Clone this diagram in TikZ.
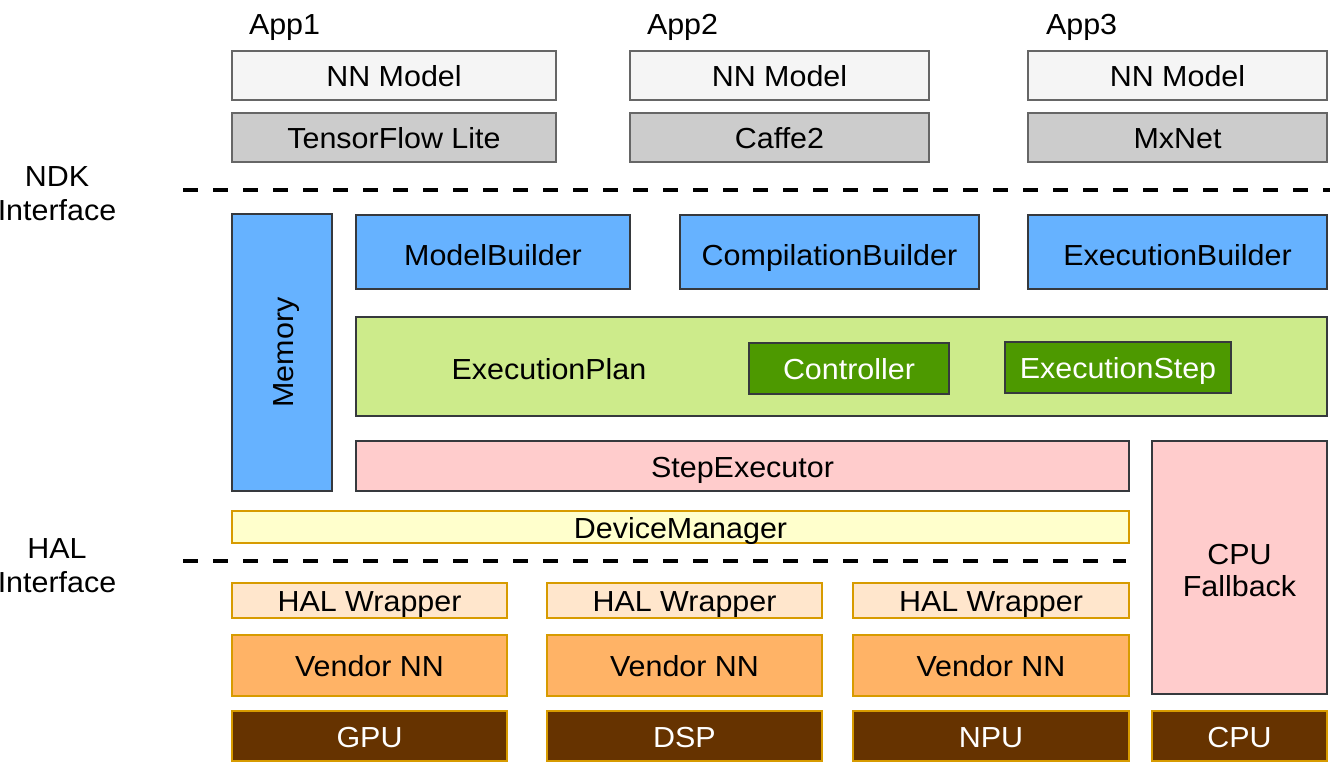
\documentclass[tikz,border=0pt]{standalone}
\usepackage{fontspec}
\setmainfont{Liberation Sans}[FakeStretch=1.05]
\definecolor{nnfill}{HTML}{F5F5F5}
\definecolor{fwfill}{HTML}{CCCCCC}
\definecolor{grayline}{HTML}{666666}
\definecolor{darkline}{HTML}{36393D}
\definecolor{bluefill}{HTML}{66B2FF}
\definecolor{planfill}{HTML}{CDEB8B}
\definecolor{ctrlfill}{HTML}{4D9900}
\definecolor{pinkfill}{HTML}{FFCCCC}
\definecolor{dmfill}{HTML}{FFFFCC}
\definecolor{orangeline}{HTML}{D79B00}
\definecolor{halfill}{HTML}{FFE6CC}
\definecolor{vendfill}{HTML}{FFB366}
\definecolor{hwfill}{HTML}{663300}
\newcommand\bx[7]{\node[#6, minimum width={(#4)-(#2)}, minimum height={(#5)-(#3)}] (#1) at ({((#2)+(#4))/2},{((#3)+(#5))/2}) {#7};}
\begin{document}
\begin{tikzpicture}[x=1pt,y=-1pt,
  every node/.style={font=\fontsize{29}{34}\selectfont, inner sep=0pt, outer sep=0pt},
  box/.style={draw, line width=2pt, rectangle, text height=25pt, text depth=3pt},
  nnbox/.style={box, draw=grayline, fill=nnfill},
  fwbox/.style={box, draw=grayline, fill=fwfill},
  bluebox/.style={box, draw=darkline, fill=bluefill},
  builderbox/.style={bluebox, text height=27pt, text depth=1pt},
  planbox/.style={box, draw=darkline, fill=planfill},
  ctrlbox/.style={box, draw=darkline, fill=ctrlfill, text=white},
  pinkbox/.style={box, draw=darkline, fill=pinkfill},
  fallbox/.style={draw, line width=2pt, rectangle, draw=darkline, fill=pinkfill, align=center, font=\fontsize{29}{32}\selectfont},
  dmbox/.style={box, draw=orangeline, fill=dmfill},
  halbox/.style={box, draw=orangeline, fill=halfill},
  vendbox/.style={box, draw=orangeline, fill=vendfill},
  hwbox/.style={box, draw=orangeline, fill=hwfill, text=white},
  dashline/.style={line width=4pt, dash pattern=on 15pt off 15pt},
  sidelabel/.style={align=center}
]
\useasboundingbox (0,0) rectangle (1336,765);

% app labels
\node[anchor=base west] (app1) at (249,35) {App1};
\node[anchor=base west] (app2) at (647,35) {App2};
\node[anchor=base west] (app3) at (1046,35) {App3};

% models and frameworks
\bx{nn1}{232}{51}{556}{100}{nnbox}{NN Model}
\bx{nn2}{630}{51}{929}{100}{nnbox}{NN Model}
\bx{nn3}{1028}{51}{1327}{100}{nnbox}{NN Model}
\bx{fw1}{232}{113}{556}{162}{fwbox}{TensorFlow Lite}
\bx{fw2}{630}{113}{929}{162}{fwbox}{Caffe2}
\bx{fw3}{1028}{113}{1327}{162}{fwbox}{MxNet}

% NDK interface
\node[sidelabel] (ndk) at (57,194) {NDK\\Interface};
\coordinate (ndkL) at (183,190);
\coordinate (ndkR) at (1330,190);
\draw[dashline] (ndkL) -- (ndkR);

% runtime
\node[bluebox, rotate=90, minimum width=277, minimum height=100] (mem) at (282,352.5) {Memory};
\bx{mb}{356}{215}{630}{289}{builderbox}{ModelBuilder}
\bx{cb}{680}{215}{979}{289}{builderbox}{CompilationBuilder}
\bx{eb}{1028}{215}{1327}{289}{builderbox}{ExecutionBuilder}
\bx{plan}{356}{317}{1327}{416}{planbox}{}
\node[anchor=base] (plantext) at (549,379) {ExecutionPlan};
\bx{ctrl}{749}{343}{949}{394}{ctrlbox}{Controller}
\bx{estep}{1005}{342}{1231}{393}{ctrlbox}{ExecutionStep}
\bx{sexec}{356}{441}{1129}{491}{pinkbox}{StepExecutor}
\bx{cpufb}{1152}{441}{1327}{694}{fallbox}{\rule{0pt}{27pt}CPU\\Fallback}
\bx{dm}{232}{511}{1129}{543}{dmbox}{DeviceManager}

% HAL interface
\node[sidelabel] (hal) at (57,566) {HAL\\Interface};
\coordinate (halL) at (183,561);
\coordinate (halR) at (1126,561);
\draw[dashline] (halL) -- (halR);

% drivers
\bx{hw1}{232}{583}{507}{618}{halbox}{HAL Wrapper}
\bx{hw2}{547}{583}{822}{618}{halbox}{HAL Wrapper}
\bx{hw3}{853}{583}{1129}{618}{halbox}{HAL Wrapper}
\bx{vn1}{232}{635}{507}{696}{vendbox}{Vendor NN}
\bx{vn2}{547}{635}{822}{696}{vendbox}{Vendor NN}
\bx{vn3}{853}{635}{1129}{696}{vendbox}{Vendor NN}
\bx{gpu}{232}{711}{507}{761}{hwbox}{GPU}
\bx{dsp}{547}{711}{822}{761}{hwbox}{DSP}
\bx{npu}{853}{711}{1129}{761}{hwbox}{NPU}
\bx{cpu}{1152}{711}{1327}{761}{hwbox}{CPU}
\end{tikzpicture}
\end{document}
